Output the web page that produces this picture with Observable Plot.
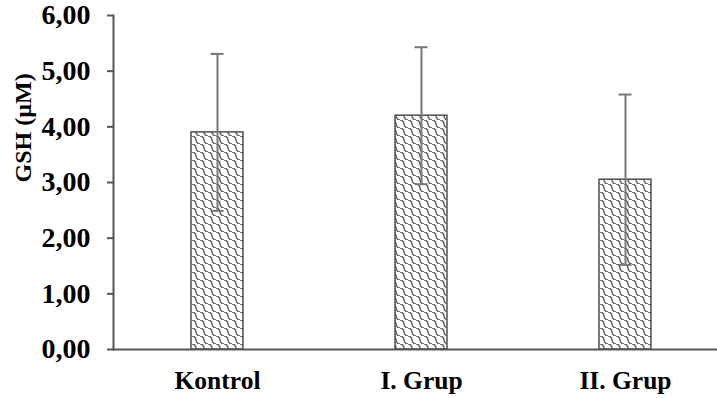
<!DOCTYPE html>
<html><head><meta charset="utf-8">
<script src="https://cdn.jsdelivr.net/npm/d3@7"></script>
<script src="https://cdn.jsdelivr.net/npm/@observablehq/plot@0.6"></script>
<style>body{margin:0;background:#fff}</style>
</head><body><div id="chart"></div>
<script>
const groups = ["Kontrol", "I. Grup", "II. Grup"];
const means = [3.90, 4.20, 3.05];
const sds = [1.41, 1.23, 1.53];
const yTicks = [0, 1, 2, 3, 4, 5, 6];
const yLabel = "GSH (µM)";

const data = groups.map((g, i) => ({group: g, mean: means[i], sd: sds[i]}));
const fmt = d => d.toFixed(2).replace(".", ",");

const plot = Plot.plot({
  width: 717, height: 398,
  marginLeft: 113, marginRight: 0, marginTop: 15, marginBottom: 49,
  style: {fontFamily: "'Liberation Serif', 'Times New Roman', serif", fontWeight: "bold", fontSize: "24px", color: "#000", background: "#fff", overflow: "visible"},
  x: {domain: groups, range: [115, 727], paddingInner: 0.745, paddingOuter: 0.3725, label: null},
  y: {domain: [0, 6], label: null},
  marks: [
    Plot.barY(data, {x: "group", y: "mean", fill: "url(#wave)", stroke: "#505050", strokeWidth: 1.5}),
    Plot.ruleX(data, {x: "group", y1: d => d.mean - d.sd, y2: d => d.mean + d.sd, stroke: "#777", strokeWidth: 2}),
    Plot.tickY(data, {x: "group", y: d => d.mean + d.sd, stroke: "#777", strokeWidth: 2, insetLeft: 19.5, insetRight: 19.5}),
    Plot.tickY(data, {x: "group", y: d => d.mean - d.sd, stroke: "#777", strokeWidth: 2, insetLeft: 19.5, insetRight: 19.5}),
    Plot.frame({anchor: "left", stroke: "#555", strokeWidth: 2}),
    Plot.ruleY([0], {stroke: "#555", strokeWidth: 2}),
    Plot.axisY({ticks: yTicks, tickFormat: fmt, tickSize: 6, tickPadding: 17, stroke: "#555", strokeWidth: 2, label: null, fontSize: 28}),
    Plot.axisX({tickSize: 0, tickPadding: 21, label: null, fontSize: 25.5}),
    Plot.text([yLabel], {frameAnchor: "left", dx: -90, rotate: -90, y: () => 3.0, text: d => d, fontSize: 24, fontWeight: "bold"})
  ]
});

const ns = "http://www.w3.org/2000/svg";
const defs = document.createElementNS(ns, "defs");
defs.innerHTML = `<pattern id="wave" patternUnits="userSpaceOnUse" width="8" height="8">
  <rect width="8" height="8" fill="#fff"/>
  <path d="M0,0 Q3.7,0.3 4,4 Q4.3,7.7 8,8" fill="none" stroke="#666" stroke-width="1.6"/>
</pattern>`;
plot.insertBefore(defs, plot.firstChild);
document.getElementById("chart").appendChild(plot);
</script>
</body></html>
